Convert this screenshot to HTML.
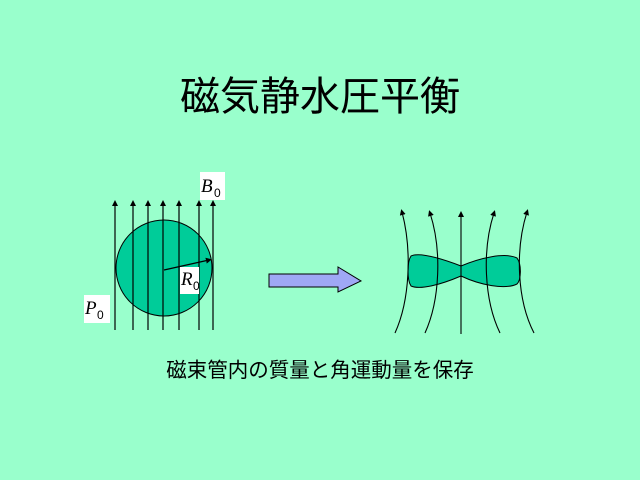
<!DOCTYPE html>
<html><head><meta charset="utf-8"><style>
body{margin:0;width:640px;height:480px;background:#99ffcc;overflow:hidden;position:relative;font-family:"Liberation Sans","Noto Sans CJK JP",sans-serif}
.t{position:absolute;left:0;width:640px;text-align:center;top:64px;font-size:40px;color:#000}
.s{position:absolute;left:0;width:640px;text-align:center;top:353px;font-size:20.5px;color:#000}
</style></head><body>
<div class="t">磁気静水圧平衡</div>
<svg width="640" height="480" style="position:absolute;left:0;top:0">
<defs>
<marker id="a" markerWidth="6" markerHeight="6" refX="3" refY="3" orient="auto" markerUnits="userSpaceOnUse"><path d="M0,0 L6,3 L0,6z" fill="#000"/></marker>
</defs>
<circle cx="164" cy="268" r="48" fill="#00cc99" stroke="#000" stroke-width="1"/>
<g stroke="#000" stroke-width="1.2" marker-end="url(#a)">
<line x1="115" y1="330" x2="115" y2="203"/><line x1="133" y1="330" x2="133" y2="203"/>
<line x1="148" y1="330" x2="148" y2="203"/><line x1="163" y1="330" x2="163" y2="203"/>
<line x1="179" y1="330" x2="179" y2="203"/><line x1="199" y1="330" x2="199" y2="203"/>
<line x1="213" y1="330" x2="213" y2="203"/>
<line x1="164" y1="270" x2="209" y2="260"/>
</g>
<rect x="200" y="172" width="25" height="28" fill="#fff"/>
<text x="201" y="192" font-family="Liberation Serif" font-style="italic" font-size="19">B</text><text x="214" y="197" font-family="Liberation Sans" font-size="12">0</text>
<rect x="180" y="267" width="19" height="27" fill="#fff"/>
<text x="181" y="285" font-family="Liberation Serif" font-style="italic" font-size="19">R</text><text x="193" y="290" font-family="Liberation Sans" font-size="12">0</text>
<rect x="84" y="295" width="26" height="28" fill="#fff"/>
<text x="85" y="314" font-family="Liberation Serif" font-style="italic" font-size="19">P</text><text x="97" y="319" font-family="Liberation Sans" font-size="12">0</text>
<path d="M269,274 H338 V267 L361,281 L338,292 V287 H269Z" fill="#9fa8f5" stroke="#000"/>
<path d="M411,256 C420,252 440,258 461,266 C480,258 505,252 517,258 C522,265 521,280 517,284 C505,290 480,285 461,276 C440,285 420,290 411,286 C407,280 407,262 411,256Z" fill="#00cc99" stroke="#000"/>
<g stroke="#000" stroke-width="1.1" fill="none" marker-end="url(#a)">
<path d="M395,333 C410,300 412,250 402,212"/>
<path d="M425,333 C440,300 442,250 430,213"/>
<path d="M461,334 V214"/>
<path d="M500,333 C484,300 482,250 494,213"/>
<path d="M534,333 C517,300 515,250 527,212"/>
</g>
</svg>
<div class="s">磁束管内の質量と角運動量を保存</div>
</body></html>
